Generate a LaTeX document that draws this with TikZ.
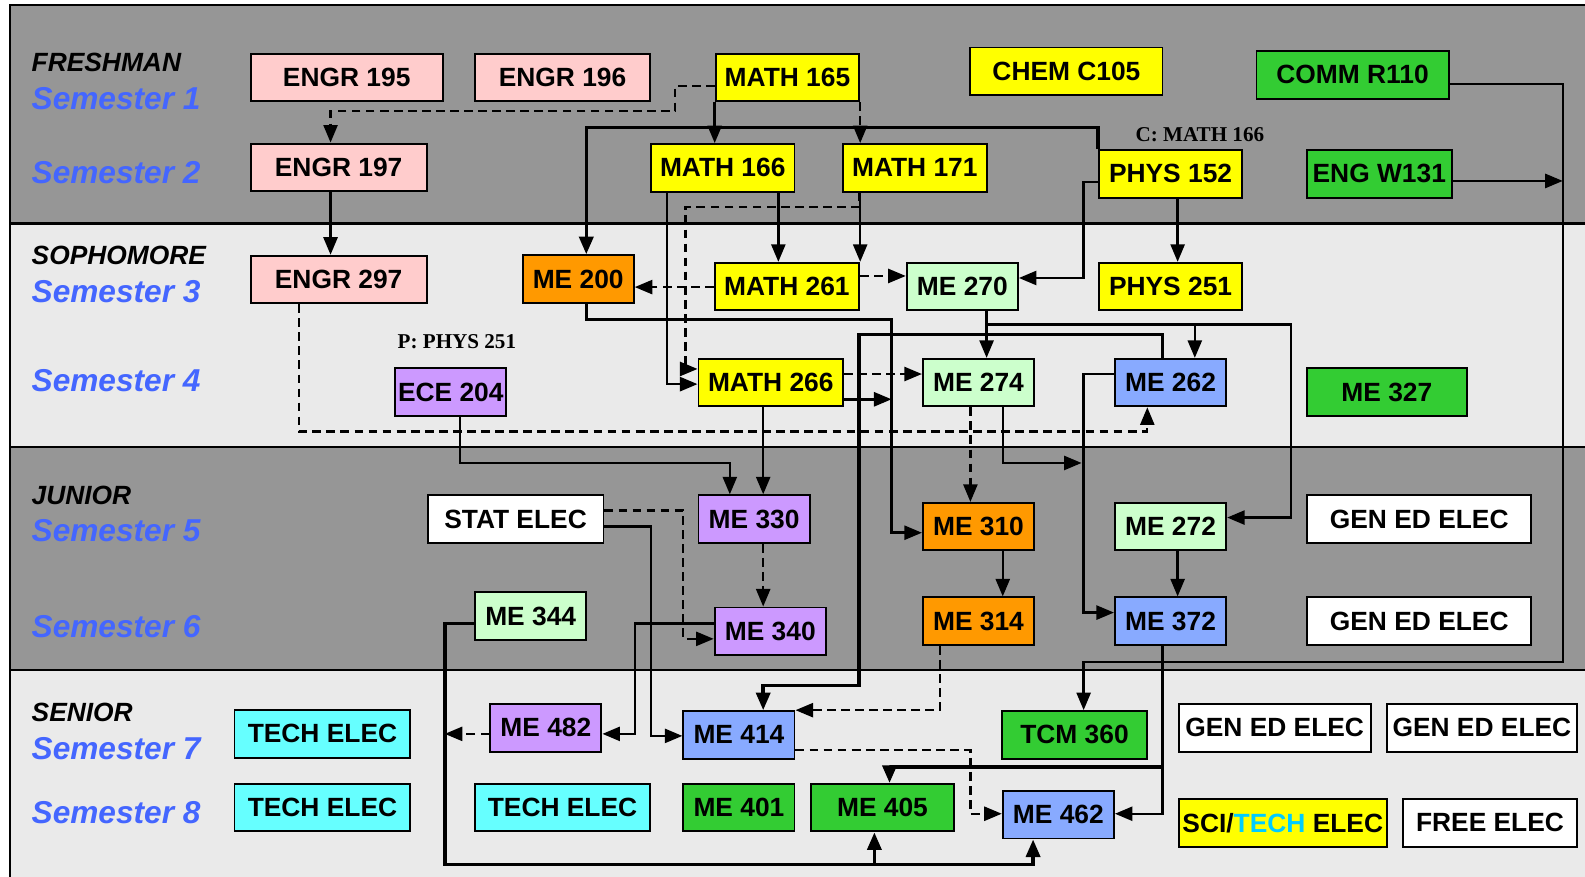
\documentclass[tikz,border=0pt]{standalone}
\usepackage{fontspec}
\setmainfont{Liberation Sans}
\newfontfamily\tnr{Liberation Serif}
\usetikzlibrary{arrows.meta}
\definecolor{dkband}{HTML}{969696}
\definecolor{ltband}{HTML}{EAEAEA}
\definecolor{engr}{HTML}{FFCCCC}
\definecolor{math}{HTML}{FFFF00}
\definecolor{meor}{HTML}{FF9900}
\definecolor{melg}{HTML}{CCFFCC}
\definecolor{mepu}{HTML}{CC99FF}
\definecolor{mebl}{HTML}{88AAFF}
\definecolor{gned}{HTML}{33CC33}
\definecolor{tech}{HTML}{66FFFF}
\definecolor{semblue}{HTML}{4466FF}
\definecolor{techtxt}{HTML}{00CCFF}
\newcommand{\px}{0.02022cm}

\tikzset{
  crs/.style={draw, line width=1.1pt, inner sep=0pt,
    font=\bfseries\fontsize{15}{18}\selectfont, minimum height=47*\px},
  bw/.style={minimum width=#1*\px},
  sem/.style={anchor=west, inner sep=0pt, text=semblue,
    font=\bfseries\itshape\fontsize{18}{21}\selectfont},
  yr/.style={anchor=west, inner sep=0pt,
    font=\bfseries\itshape\fontsize{15}{18}\selectfont},
  note/.style={inner sep=0pt, font=\tnr\bfseries\fontsize{12}{14}\selectfont},
  ln/.style={line width=1.4pt},
  thk/.style={line width=2pt},
  dsh/.style={line width=1.3pt, dash pattern=on 5pt off 3pt},
  >={Triangle[length=10pt,width=8pt]}
}

\begin{document}
\begin{tikzpicture}[x=\px, y=-\px]
\useasboundingbox (0,0) rectangle (1568,867.5);
% year bands
\fill[dkband] (10,5) rectangle (1568,221);
\fill[ltband] (10,221) rectangle (1568,442);
\fill[dkband] (10,442) rectangle (1568,663);
\fill[ltband] (10,663) rectangle (1568,867.5);
\draw[line width=1.4pt] (1568,5) -- (10,5) -- (10,867.5);
\draw[line width=1.4pt] (10,221) -- (1568,221) (10,442) -- (1568,442) (10,663) -- (1568,663);

\node[yr] (fr) at (31,62) {FRESHMAN};
\node[sem] (s1) at (31,98) {Semester 1};
\node[sem] (s2) at (31,171) {Semester 2};
\node[yr] (so) at (31,253) {SOPHOMORE};
\node[sem] (s3) at (31,288) {Semester 3};
\node[sem] (s4) at (31,377) {Semester 4};
\node[yr] (ju) at (31,490) {JUNIOR};
\node[sem] (s5) at (31,525) {Semester 5};
\node[sem] (s6) at (31,620) {Semester 6};
\node[yr] (se) at (31,705) {SENIOR};
\node[sem] (s7) at (31,741) {Semester 7};
\node[sem] (s8) at (31,804) {Semester 8};

% courses
\node[crs, fill=engr, bw=190] (e195) at (343,76.5) {ENGR 195};
\node[crs, fill=engr, bw=173] (e196) at (556.5,76.5) {ENGR 196};
\node[crs, fill=math, bw=142] (m165) at (779,76.5) {MATH 165};
\node[crs, fill=math, bw=190] (c105) at (1055,70.5) {CHEM C105};
\node[crs, fill=gned, bw=190] (comm) at (1338,74) {COMM R110};
\node[crs, fill=engr, bw=174] (e197) at (335,165.5) {ENGR 197};
\node[crs, fill=math, bw=142] (m166) at (715,166) {MATH 166};
\node[crs, fill=math, bw=142] (m171) at (905,166) {MATH 171};
\node[crs, fill=math, bw=142] (p152) at (1158,172) {PHYS 152};
\node[crs, fill=gned, bw=143] (w131) at (1364.5,172) {ENG W131};
\node[note] (cm166) at (1187,133) {C: MATH 166};

\node[crs, fill=engr, bw=174] (e297) at (335,276.5) {ENGR 297};
\node[crs, fill=meor, bw=110] (me200) at (572,276) {ME 200};
\node[crs, fill=math, bw=143] (m261) at (778.5,283.5) {MATH 261};
\node[crs, fill=melg, bw=110] (me270) at (952,283.5) {ME 270};
\node[crs, fill=math, bw=142] (p251) at (1158,283.5) {PHYS 251};
\node[note] (pp251) at (452,338) {P: PHYS 251};
\node[crs, fill=mepu, bw=110] (ece204) at (446,388) {ECE 204};
\node[crs, fill=math, bw=143] (m266) at (762.5,378.5) {MATH 266};
\node[crs, fill=melg, bw=110] (me274) at (968,378.5) {ME 274};
\node[crs, fill=mebl, bw=110] (me262) at (1158,378.5) {ME 262};
\node[crs, fill=gned, bw=158] (me327) at (1372,388) {ME 327};

\node[crs, fill=white, bw=174] (stat) at (510,513.5) {STAT ELEC};
\node[crs, fill=mepu, bw=110] (me330) at (746,513.5) {ME 330};
\node[crs, fill=meor, bw=110] (me310) at (968,521) {ME 310};
\node[crs, fill=melg, bw=110] (me272) at (1158,521) {ME 272};
\node[crs, fill=white, bw=222] (gen5) at (1404,513.5) {GEN ED ELEC};
\node[crs, fill=melg, bw=110] (me344) at (525,609.5) {ME 344};
\node[crs, fill=mepu, bw=110] (me340) at (762,624.5) {ME 340};
\node[crs, fill=meor, bw=110] (me314) at (968,614.5) {ME 314};
\node[crs, fill=mebl, bw=110] (me372) at (1158,614.5) {ME 372};
\node[crs, fill=white, bw=222] (gen6) at (1404,614.5) {GEN ED ELEC};

\node[crs, fill=tech, bw=174] (tech7) at (319,726) {TECH ELEC};
\node[crs, fill=mepu, bw=110] (me482) at (540,720) {ME 482};
\node[crs, fill=mebl, bw=110] (me414) at (731,727) {ME 414};
\node[crs, fill=gned, bw=143] (tcm) at (1063,727) {TCM 360};
\node[crs, fill=white, bw=190] (gen7a) at (1261,720) {GEN ED ELEC};
\node[crs, fill=white, bw=188] (gen7b) at (1466,720) {GEN ED ELEC};
\node[crs, fill=tech, bw=174] (tech8a) at (319,799) {TECH ELEC};
\node[crs, fill=tech, bw=173] (tech8b) at (556.5,799) {TECH ELEC};
\node[crs, fill=gned, bw=110] (me401) at (731,799) {ME 401};
\node[crs, fill=gned, bw=142] (me405) at (873,799) {ME 405};
\node[crs, fill=mebl, bw=110] (me462) at (1047,806) {ME 462};
\node[crs, fill=math, bw=206] (sci) at (1269,814) {SCI/\textcolor{techtxt}{TECH} ELEC};
\node[crs, fill=white, bw=172] (free) at (1474,814) {FREE ELEC};

% freshman links
\draw[dsh,->] (m165.west |- 0,85) -| (668,110) -| (e197.north -| 327,0);
\draw[ln,->] (m165.south west) -- (m166.north -| m165.south west);
\draw[dsh,->] (m165.south east) -- (m171.north -| m165.south east);
\draw[thk,->] (p152.north west) |- (580,126) -- (me200.north -| 580,0);
\draw[ln,->] (e197.south -| 327,0) -- (e297.north -| 327,0);
\draw[ln,->] (m166.south -| 770,0) -- (m261.north -| 770,0);
\draw[ln,->] (m171.south -| m261.north east) -- (m261.north east);
\draw[dsh,->] (m171.south -| 850,0) -- (850,205) -| (678,365) -- (m266.west |- 0,365);
\draw[ln,->] (m166.south -| 660,0) |- (m266.west |- 0,380);
\draw[ln,->] (p152.west |- 0,180) -| (1072,275) -- (me270.east |- 0,275);
\draw[ln,->] (p152.south -| 1165,0) -- (p251.north -| 1165,0);
\draw[ln] (comm.east |- 0,83) -| (1546,655) -| (1072,690);
\draw[ln,->] (1072,690) -- (tcm.north -| 1072,0);
\draw[ln,->] (w131.east |- 0,179) -- (1546,179);

% sophomore links
\draw[dsh,->] (m261.west |- 0,284) -- (me200.east |- 0,284);
\draw[dsh,->] (m261.east |- 0,273) -- (me270.west |- 0,273);
\draw[ln,->] (me200.south -| 580,0) |- (882,316) |- (me310.west |- 0,527);
\draw[ln,->] (me270.south -| 976,0) -- (me274.north -| 976,0);
\draw[ln,->] (976,321) -| (1277,512) -- (me272.east |- 0,512);
\draw[ln,->] (1182,321) -- (me262.north -| 1182,0);
\draw[thk,->] (me262.north -| 1150,0) |- (850,331) |- (755,678) -- (me414.north -| 755,0);
\draw[dsh,->] (m266.east |- 0,370) -- (me274.west |- 0,370);
\draw[ln,->] (m266.east |- 0,395) -- (882,395);
\draw[dsh,->] (e297.south -| 296,0) |- (1135,427) -- (me262.south -| 1135,0);
\draw[ln,->] (ece204.south -| 455,0) |- (722,458) -- (me330.north -| 722,0);
\draw[ln,->] (m266.south -| 755,0) -- (me330.north -| 755,0);
\draw[dsh,->] (me274.south -| 960,0) -- (me310.north -| 960,0);
\draw[ln,->] (me274.south -| 992,0) |- (1070,458);
\draw[ln,->] (me262.west |- 0,370) -| (1072,606) -- (me372.west |- 0,606);

% junior links
\draw[dsh,->] (stat.east |- 0,505) -| (676,632) -- (me340.west |- 0,632);
\draw[ln,->] (stat.east |- 0,521) -| (644,728) -- (me414.west |- 0,728);
\draw[dsh,->] (me330.south -| 755,0) -- (me340.north -| 755,0);
\draw[ln,->] (me340.west |- 0,617) -| (628,726) -- (me482.east |- 0,726);
\draw[ln,->] (me310.south -| 992,0) -- (me314.north -| 992,0);
\draw[ln,->] (me272.south -| 1165,0) -- (me372.north -| 1165,0);
\draw[thk,->] (me344.west |- 0,617) -| (440,855) -| (me462.south -| 1022,0);
\draw[thk,->] (865,855) -- (me405.south -| 865,0);
\draw[dsh,->] (me314.south -| 930,0) |- (me414.north east);

% senior links
\draw[dsh,->] (me482.west |- 0,726) -- (440,726);
\draw[dsh,->] (me414.east |- 0,742) -| (960,805) -- (me462.west |- 0,805);
\draw[ln,->] (me372.south -| 1150,0) |- (me462.east |- 0,805);
\draw[thk,->] (1150,759) -| (me405.north -| 880,0);
\end{tikzpicture}
\end{document}
